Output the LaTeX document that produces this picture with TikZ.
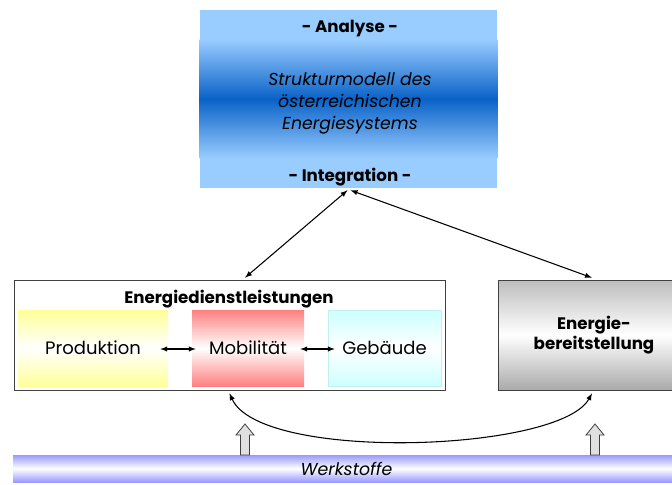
\documentclass[tikz,border=0pt]{standalone}
\usepackage{fontspec}
\setmainfont{Poppins}
\usetikzlibrary{calc,positioning,shapes,arrows}
\definecolor{hellblau}{HTML}{99CCFF}
\definecolor{tiefblau}{HTML}{0A62C8}
\definecolor{gelb}{HTML}{FFFF99}
\definecolor{rot}{HTML}{FF8080}
\definecolor{tuerkis}{HTML}{CCFFFF}
\definecolor{grau}{HTML}{BDBDBD}
\definecolor{lila}{HTML}{9999FF}
\tikzset{
  feld/.style={rectangle,inner sep=0,minimum height=57pt},
  fett/.style={font=\fontsize{12.5}{15.5}\selectfont\bfseries},
  pfeil/.style={latex-latex,thick},
  hohl/.style={draw=black!75,fill=black!12,line width=0.6pt}
}

\begin{document}
\begin{tikzpicture}[x=0.75pt,y=-0.75pt,font=\fontsize{13.5}{16}\selectfont]
		\useasboundingbox (0,0) rectangle (672,485);
		% Strukturmodell
		\node(modell) at (348.5,99) [rectangle,fill=hellblau,inner sep=0,minimum width=222.75pt,minimum height=133.5pt] {};
		\shade[top color=hellblau,bottom color=hellblau,middle color=tiefblau] ($(modell.north west)+(0,30)$) rectangle ($(modell.south east)+(0,-30)$);
		\node(analyse) at (350,29) [fett] {- Analyse -};
		\node(titel) at (350,103) [align=center,font=\fontsize{13}{16.5}\selectfont\itshape] {Strukturmodell des\\österreichischen\\Energiesystems};
		\node(integration) at (350,177) [fett] {- Integration -};
		% Energiedienstleistungen
		\node(dienst) at (229.5,335) [rectangle,draw=black!75,fill=white,minimum width=323.25pt,minimum height=82.5pt] {};
		\node(dtitel) at (229,299) [fett] {Energiedienstleistungen};
		\node(prod) at (93,348) [feld,minimum width=112.5pt,top color=gelb,bottom color=gelb,middle color=white,text depth=-2pt] {Produktion};
		\node(mob) at (248,348) [feld,minimum width=84pt,top color=rot,bottom color=rot,middle color=white,text depth=-2pt] {Mobilität};
		\node(geb) at (384.5,348) [feld,minimum width=84.75pt,draw=tuerkis!80!black!30!tuerkis,top color=tuerkis,bottom color=tuerkis,middle color=white,text depth=-2pt] {Gebäude};
		\draw[pfeil] ($(prod.east)+(-8,1)$) -- ($(mob.west)+(4,1)$);
		\draw[pfeil] ($(mob.east)+(-4,1)$) -- ($(geb.west)+(7,1)$);
		% Energiebereitstellung
		\node(bereit) at (594,335) [rectangle,draw=black!75,align=center,fett,minimum width=144pt,minimum height=82.5pt,top color=grau,bottom color=grau!90!black,middle color=white] {Energie-\\bereitstellung};
		% Werkstoffe
		\node(werk) at (346.5,468.5) [rectangle,inner sep=0,minimum width=500.25pt,minimum height=20.25pt,top color=lila,bottom color=lila,middle color=white,font=\fontsize{13}{15}\selectfont\itshape] {Werkstoffe};
		% Verbindungen
		\draw[pfeil] ($(modell.south)+(-1,2)$) -- ($(dienst.north)+(15.5,-2)$);
		\draw[pfeil] ($(modell.south)+(2,2)$) -- ($(bereit.north)+(-2,-2)$);
		\draw[pfeil] ($(dienst.south)+(0,3)$) .. controls ($(dienst.south)+(31,72)$) and ($(bereit.south)+(-34,62)$) .. ($(bereit.south)+(-2,3)$);
		\foreach \ax in {245,595}
			\draw[hohl] (\ax-4.5,455) -- (\ax-4.5,435) -- (\ax-9,435) -- (\ax,424) -- (\ax+9,435) -- (\ax+4.5,435) -- (\ax+4.5,455) -- cycle;
	\end{tikzpicture}
\end{document}
